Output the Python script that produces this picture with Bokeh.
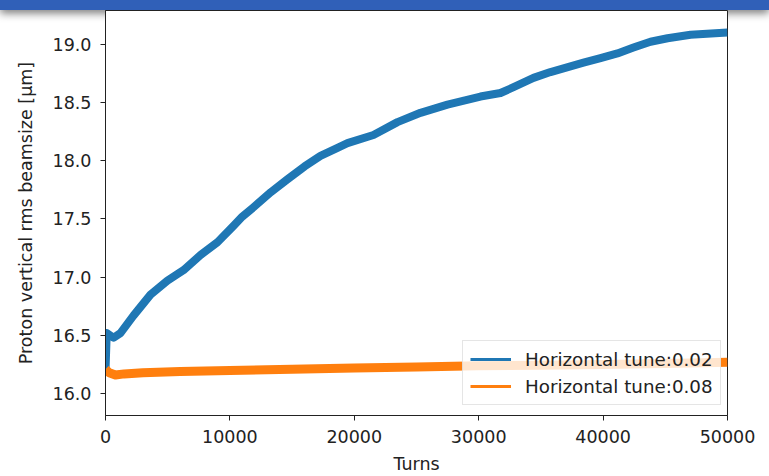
from bokeh.plotting import figure
from bokeh.models import Range1d, FixedTicker, Legend, LegendItem, Div
from bokeh.layouts import column
from bokeh.embed import file_html
from bokeh.resources import INLINE

# Data
turns_q002 = [0, 100, 650, 1200, 2250, 3620, 4980, 6270, 7640, 9000, 10290,
              11000, 11900, 13300, 14630, 16000, 17280, 18650, 19450, 21540,
              23470, 25320, 27490, 30140, 31750, 32800, 34400, 35770, 38420,
              39790, 41150, 42440, 43810, 45180, 47030, 50000]
beam_q002 = [16.20, 16.52, 16.48, 16.52, 16.67, 16.85, 16.97, 17.06, 17.19,
             17.30, 17.44, 17.52, 17.60, 17.73, 17.84, 17.95, 18.04, 18.11,
             18.15, 18.22, 18.33, 18.41, 18.48, 18.55, 18.58, 18.63, 18.71,
             18.76, 18.84, 18.88, 18.92, 18.97, 19.02, 19.05, 19.08, 19.10]

turns_q008 = [0, 300, 800, 1500, 3000, 6000, 10000, 15000, 20000, 25000,
              30000, 35000, 40000, 45000, 50000]
beam_q008 = [16.21, 16.18, 16.16, 16.17, 16.18, 16.19, 16.20, 16.21, 16.22,
             16.23, 16.24, 16.245, 16.25, 16.26, 16.27]

x_ticks = [0, 10000, 20000, 30000, 40000, 50000]
y_ticks = [16.0, 16.5, 17.0, 17.5, 18.0, 18.5, 19.0]
labels = ["Horizontal tune:0.02", "Horizontal tune:0.08"]

BLUE = "#1f77b4"
ORANGE = "#ff7f0e"
FONT = "DejaVu Sans"
FS = "17.5px"

bar = Div(text="", width=769, height=10, margin=0,
          styles={"background-color": "#3060b8",
                  "box-shadow": "0 3px 8px rgba(0,0,0,0.55)"})

p = figure(width=769, height=466, output_backend="svg", toolbar_location=None,
           x_range=Range1d(0, 50000), y_range=Range1d(15.813, 19.288),
           min_border_left=105, min_border_right=42, min_border_top=0,
           min_border_bottom=58, margin=0)

p.line(turns_q002, beam_q002, color=BLUE, line_width=8, line_join="round")
p.line(turns_q008, beam_q008, color=ORANGE, line_width=9, line_join="round")

# thin legend proxies (drawn outside the visible range)
lb = p.line([-20000, -19000], [0, 0], color=BLUE, line_width=3)
lo = p.line([-20000, -19000], [0, 0], color=ORANGE, line_width=3)

p.xgrid.visible = False
p.ygrid.visible = False
p.outline_line_color = "#222222"
p.outline_line_width = 1
p.background_fill_color = "white"
p.border_fill_color = "white"
p.border_fill_alpha = 0.0

for ax in (p.xaxis[0], p.yaxis[0]):
    ax.axis_line_color = "#222222"
    ax.major_tick_line_color = "#222222"
    ax.major_tick_out = 5
    ax.major_tick_in = 0
    ax.minor_tick_out = 0
    ax.minor_tick_in = 0
    ax.major_label_text_font = FONT
    ax.major_label_text_font_size = FS
    ax.major_label_text_color = "#222222"
    ax.axis_label_text_font = FONT
    ax.axis_label_text_font_size = FS
    ax.axis_label_text_font_style = "normal"
    ax.axis_label_text_color = "#222222"

p.xaxis.ticker = FixedTicker(ticks=x_ticks)
p.yaxis.ticker = FixedTicker(ticks=y_ticks)
p.xaxis.major_label_overrides = {t: str(t) for t in x_ticks}
p.yaxis.major_label_overrides = {t: f"{t:.1f}" for t in y_ticks}
p.xaxis.axis_label = "Turns"
p.yaxis.axis_label = "Proton vertical rms beamsize [μm]"
p.xaxis.major_label_standoff = 9
p.xaxis.axis_label_standoff = 8
p.yaxis.major_label_standoff = 9
p.yaxis.axis_label_standoff = 14

legend = Legend(items=[LegendItem(label=labels[0], renderers=[lb]),
                       LegendItem(label=labels[1], renderers=[lo])],
                location=(357, 10), orientation="vertical")
legend.label_text_font = FONT
legend.label_text_font_size = "18.3px"
legend.label_text_color = "#222222"
legend.glyph_width = 41
legend.glyph_height = 22
legend.label_height = 22
legend.label_standoff = 14
legend.spacing = 5
legend.padding = 7
legend.margin = 0
legend.border_line_color = "#cccccc"
legend.border_line_width = 1
legend.background_fill_color = "white"
legend.background_fill_alpha = 0.8
p.add_layout(legend, "center")

layout = column(bar, p, spacing=0, margin=0)
open("out.html", "w").write(file_html(layout, INLINE))
